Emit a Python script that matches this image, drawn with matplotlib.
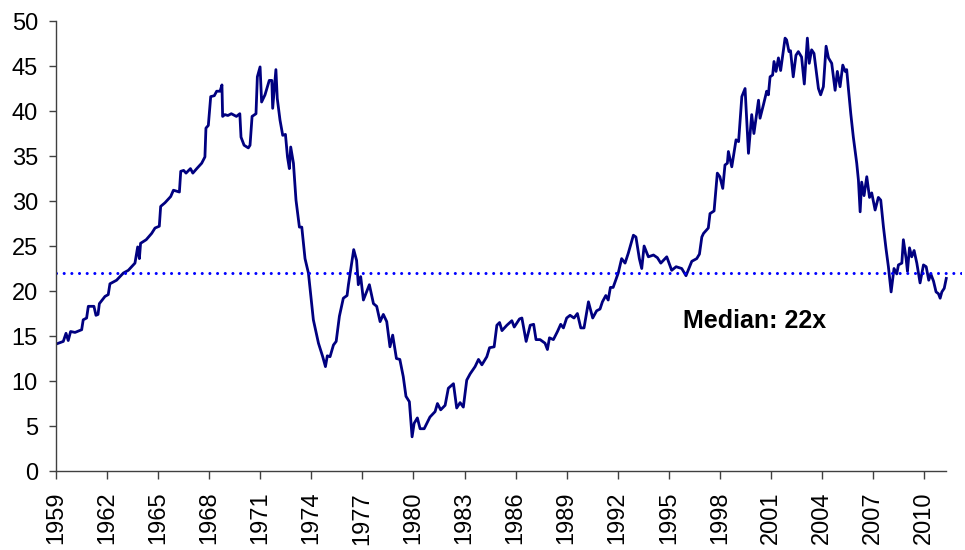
import matplotlib
matplotlib.use("Agg")
import matplotlib.pyplot as plt

plt.rcParams['font.family'] = ['Liberation Sans', 'DejaVu Sans']

# P/E multiple (decimal year, value)
years = [
    1959.0, 1959.43, 1959.59, 1959.72, 1959.86, 1960.12, 1960.51, 1960.6, 1960.8, 1960.9,
    1961.23, 1961.35, 1961.47, 1961.55, 1961.88, 1962.07, 1962.17, 1962.56, 1962.96, 1963.25,
    1963.64, 1963.8, 1963.9, 1963.97, 1964.3, 1964.62, 1964.82, 1965.07, 1965.15, 1965.4,
    1965.74, 1965.9, 1966.25, 1966.33, 1966.5, 1966.64, 1966.9, 1967.04, 1967.27, 1967.56,
    1967.75, 1967.81, 1967.95, 1968.09, 1968.3, 1968.44, 1968.64, 1968.75, 1968.79, 1968.92,
    1969.1, 1969.3, 1969.6, 1969.8, 1969.87, 1970.05, 1970.3, 1970.4, 1970.52, 1970.75,
    1970.83, 1970.99, 1971.08, 1971.28, 1971.53, 1971.68, 1971.73, 1971.92, 1972.0, 1972.16,
    1972.32, 1972.48, 1972.6, 1972.71, 1972.79, 1972.95, 1973.1, 1973.3, 1973.44, 1973.63,
    1973.83, 1974.12, 1974.42, 1974.67, 1974.83, 1974.94, 1975.1, 1975.3, 1975.46, 1975.65,
    1975.88, 1976.1, 1976.18, 1976.49, 1976.66, 1976.76, 1976.9, 1977.06, 1977.41, 1977.65,
    1977.84, 1978.04, 1978.23, 1978.43, 1978.62, 1978.78, 1979.0, 1979.2, 1979.4, 1979.56,
    1979.76, 1979.92, 1980.04, 1980.23, 1980.39, 1980.63, 1980.97, 1981.27, 1981.41, 1981.6,
    1981.86, 1982.05, 1982.35, 1982.54, 1982.74, 1982.93, 1983.13, 1983.33, 1983.62, 1983.82,
    1984.02, 1984.31, 1984.47, 1984.74, 1984.9, 1985.06, 1985.2, 1985.49, 1985.78, 1985.92,
    1986.23, 1986.37, 1986.62, 1986.86, 1987.06, 1987.2, 1987.44, 1987.73, 1987.87, 1987.99,
    1988.22, 1988.46, 1988.65, 1988.81, 1989.0, 1989.2, 1989.43, 1989.63, 1989.83, 1990.02,
    1990.28, 1990.53, 1990.76, 1990.96, 1991.1, 1991.3, 1991.44, 1991.57, 1991.73, 1992.03,
    1992.23, 1992.43, 1992.62, 1992.92, 1993.07, 1993.27, 1993.41, 1993.55, 1993.8, 1994.1,
    1994.33, 1994.53, 1994.88, 1995.17, 1995.43, 1995.76, 1996.01, 1996.35, 1996.64, 1996.8,
    1996.94, 1997.04, 1997.32, 1997.42, 1997.66, 1997.85, 1998.0, 1998.17, 1998.3, 1998.44,
    1998.5, 1998.7, 1998.95, 1999.1, 1999.29, 1999.48, 1999.68, 1999.87, 2000.0, 2000.27,
    2000.36, 2000.56, 2000.75, 2000.85, 2000.95, 2001.1, 2001.18, 2001.3, 2001.44, 2001.57,
    2001.69, 2001.83, 2001.92, 2002.06, 2002.15, 2002.31, 2002.47, 2002.61, 2002.8, 2002.96,
    2003.14, 2003.25, 2003.39, 2003.53, 2003.79, 2003.92, 2004.08, 2004.24, 2004.38, 2004.57,
    2004.77, 2004.9, 2005.06, 2005.22, 2005.36, 2005.45, 2005.55, 2005.69, 2005.84, 2006.04,
    2006.14, 2006.24, 2006.33, 2006.47, 2006.63, 2006.79, 2006.92, 2007.12, 2007.31, 2007.45,
    2007.61, 2007.76, 2007.9, 2008.06, 2008.23, 2008.39, 2008.49, 2008.69, 2008.78, 2008.94,
    2009.02, 2009.14, 2009.27, 2009.41, 2009.57, 2009.76, 2009.96, 2010.12, 2010.27, 2010.39,
    2010.55, 2010.7, 2010.84, 2010.94, 2011.04, 2011.18, 2011.3,
]
pe = [
    14.1, 14.4, 15.3, 14.5, 15.5, 15.4, 15.7, 16.8, 17.0, 18.3,
    18.3, 17.3, 17.4, 18.6, 19.4, 19.6, 20.8, 21.2, 22.0, 22.3,
    23.1, 24.9, 23.6, 25.3, 25.7, 26.4, 27.0, 27.2, 29.4, 29.8,
    30.5, 31.2, 31.0, 33.3, 33.4, 33.1, 33.6, 33.1, 33.6, 34.2,
    34.9, 38.1, 38.4, 41.6, 41.7, 42.2, 42.2, 42.9, 39.4, 39.6,
    39.5, 39.7, 39.4, 39.7, 37.1, 36.2, 35.9, 36.2, 39.4, 39.7,
    43.8, 44.9, 41.0, 41.8, 43.4, 43.4, 40.3, 44.6, 41.4, 39.0,
    37.3, 37.4, 34.9, 33.6, 36.0, 34.2, 30.1, 27.1, 27.1, 23.6,
    22.0, 16.8, 14.2, 12.7, 11.6, 12.8, 12.7, 14.0, 14.4, 17.2,
    19.2, 19.5, 20.7, 24.6, 23.4, 20.7, 21.6, 19.0, 20.7, 18.6,
    18.3, 16.6, 17.4, 16.6, 13.8, 15.1, 12.5, 12.4, 10.5, 8.3,
    7.7, 3.8, 5.3, 5.9, 4.7, 4.7, 6.0, 6.6, 7.5, 6.8,
    7.3, 9.2, 9.7, 7.0, 7.6, 7.1, 10.1, 10.8, 11.6, 12.4,
    11.8, 12.7, 13.7, 13.8, 16.2, 16.5, 15.6, 16.2, 16.7, 16.0,
    16.9, 17.0, 14.4, 16.2, 16.3, 14.6, 14.6, 14.2, 13.5, 14.8,
    14.6, 15.5, 16.3, 15.9, 17.0, 17.3, 17.0, 17.5, 15.9, 15.9,
    18.8, 17.0, 17.8, 18.0, 18.8, 19.5, 19.0, 20.4, 20.4, 22.0,
    23.6, 23.1, 24.2, 26.2, 26.0, 23.6, 22.5, 25.0, 23.8, 24.0,
    23.7, 23.1, 23.8, 22.3, 22.7, 22.5, 21.7, 23.3, 23.6, 24.1,
    26.0, 26.4, 27.0, 28.6, 28.9, 33.1, 32.7, 31.4, 34.0, 34.2,
    35.5, 33.8, 36.8, 36.6, 41.6, 42.5, 35.3, 39.6, 37.5, 41.2,
    39.2, 40.7, 42.2, 41.8, 43.8, 44.0, 45.5, 44.4, 45.9, 44.5,
    46.2, 48.1, 47.9, 46.6, 46.7, 43.8, 46.2, 46.6, 46.0, 43.0,
    48.1, 45.3, 46.8, 46.4, 42.5, 41.8, 42.7, 47.2, 45.9, 45.3,
    42.3, 44.4, 42.7, 45.1, 44.4, 44.6, 42.5, 39.7, 37.1, 34.2,
    32.3, 28.8, 32.1, 30.6, 32.7, 30.4, 30.9, 29.0, 30.4, 30.1,
    27.1, 24.7, 22.7, 19.9, 22.5, 21.9, 22.9, 23.1, 25.7, 23.6,
    22.2, 24.8, 23.8, 24.5, 23.1, 20.9, 22.9, 22.7, 21.2, 21.9,
    21.1, 19.9, 19.7, 19.2, 19.9, 20.3, 21.4,
]
median = 22
tick_years = list(range(1959, 2011, 3))
y_ticks = list(range(0, 51, 5))

fig = plt.figure(figsize=(9.65, 5.5), dpi=100)
ax = fig.add_axes([0.058, 0.1436, 0.939, 0.8182])

ax.plot(years, pe, color='#000080', lw=2.0, solid_joinstyle='round')
# round dots: tiny dash + round caps
ax.axhline(median, color='#0000ff', lw=2.2, linestyle=(0, (0.01, 2.5)),
           dash_capstyle='round')
ax.text(1995.84, 16.7, 'Median: 22x', fontsize=18, fontweight='bold',
        ha='left', va='center')

ax.set_xlim(1959, 2012.23)
ax.set_ylim(0, 50)
ax.set_xticks(tick_years)
ax.set_xticklabels([str(y) for y in tick_years], rotation=90)
ax.set_yticks(y_ticks)

for s in ['top', 'right']:
    ax.spines[s].set_visible(False)
ax.spines['bottom'].set_bounds(1959, 2011.3)
for s in ['left', 'bottom']:
    ax.spines[s].set_color('#404040')
    ax.spines[s].set_linewidth(1.0)
ax.tick_params(axis='both', colors='#404040', labelcolor='black',
               labelsize=17, width=1.0)
ax.tick_params(axis='y', length=5, pad=8)
ax.tick_params(axis='x', length=6, pad=9)

fig.savefig('out.png', dpi=100)
